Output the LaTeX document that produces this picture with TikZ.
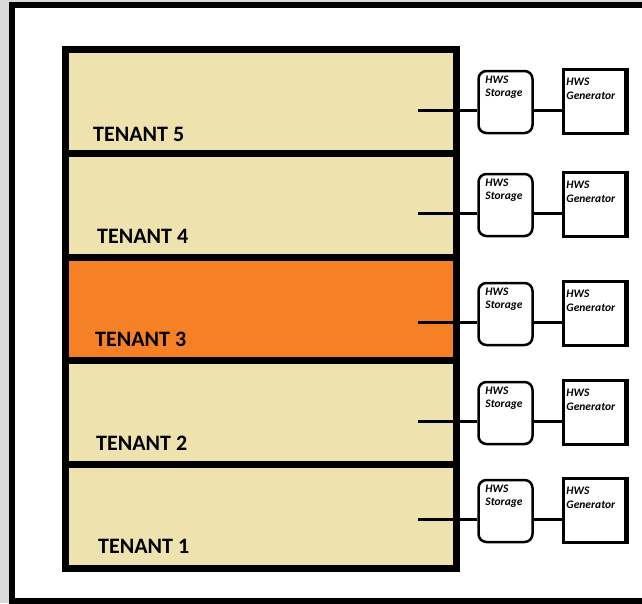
\documentclass[tikz,border=0pt]{standalone}
\usepackage{fontspec}
\setmainfont{Carlito}
\definecolor{beige}{RGB}{238,226,174}
\definecolor{orng}{RGB}{245,128,37}
\definecolor{bggray}{RGB}{218,218,218}
\begin{document}
\begin{tikzpicture}[x=1pt,y=-1pt,
  floor/.style={draw,line width=7pt,fill=beige,minimum width=391pt,minimum height=103.8pt,inner sep=0,anchor=north west},
  tenant/.style={anchor=base west,inner sep=0,font=\fontsize{22}{22}\selectfont\bfseries},
  storebox/.style={draw,line width=2.5pt,rounded corners=8pt,minimum width=54pt,minimum height=62pt,inner sep=0},
  genbox/.style={draw,line width=2.5pt,minimum width=63pt,minimum height=64pt,inner sep=0},
  smalltext/.style={anchor=north west,inner sep=0,align=left,font=\fontsize{11.5}{13.5}\selectfont\bfseries\itshape},
  pipe/.style={line width=3pt}]
\fill[bggray] (0,0) rectangle (642,603);
\useasboundingbox (0,0) rectangle (642,603);
\fill[white] (12,5) rectangle (648,601);
\draw[line width=6pt] (648,5) -- (12,5) -- (12,601) -- (648,601);
% floors (top to bottom: 5,4,3,2,1)
\node[floor] (f5) at (62,46) {};
\node[floor] (f4) at (62,149.8) {};
\node[floor,fill=orng] (f3) at (62,253.6) {};
\node[floor] (f2) at (62,357.4) {};
\node[floor] (f1) at (62,461.2) {};
\node[tenant] (t5) at (93,141) {TENANT 5};
\node[tenant] (t4) at (97,243) {TENANT 4};
\node[tenant] (t3) at (95,346) {TENANT 3};
\node[tenant] (t2) at (96,450) {TENANT 2};
\node[tenant] (t1) at (98,553) {TENANT 1};
% equipment rows
\foreach \k/\c in {5/110,4/213,3/322,2/421,1/519}{
  \coordinate (p\k) at (418,\c);
  \node[storebox] (s\k) at (505.5,\c-8) {};
  \node[genbox] (g\k) at (595,\c-8.5) {};
  \draw[line width=5pt] ([xshift=-1.5pt]g\k.north east) -- ([xshift=-1.5pt]g\k.south east);
  \node[smalltext] (st\k) at ([xshift=8pt,yshift=-6pt]s\k.north west) {HWS\\Storage};
  \node[smalltext] (gt\k) at ([xshift=4pt,yshift=-10pt]g\k.north west) {HWS\\Generator};
  \draw[pipe] (p\k) -- (p\k -| s\k.west);
  \draw[pipe] (s\k.east |- p\k) -- (g\k.west |- p\k);
}
\end{tikzpicture}
\end{document}
